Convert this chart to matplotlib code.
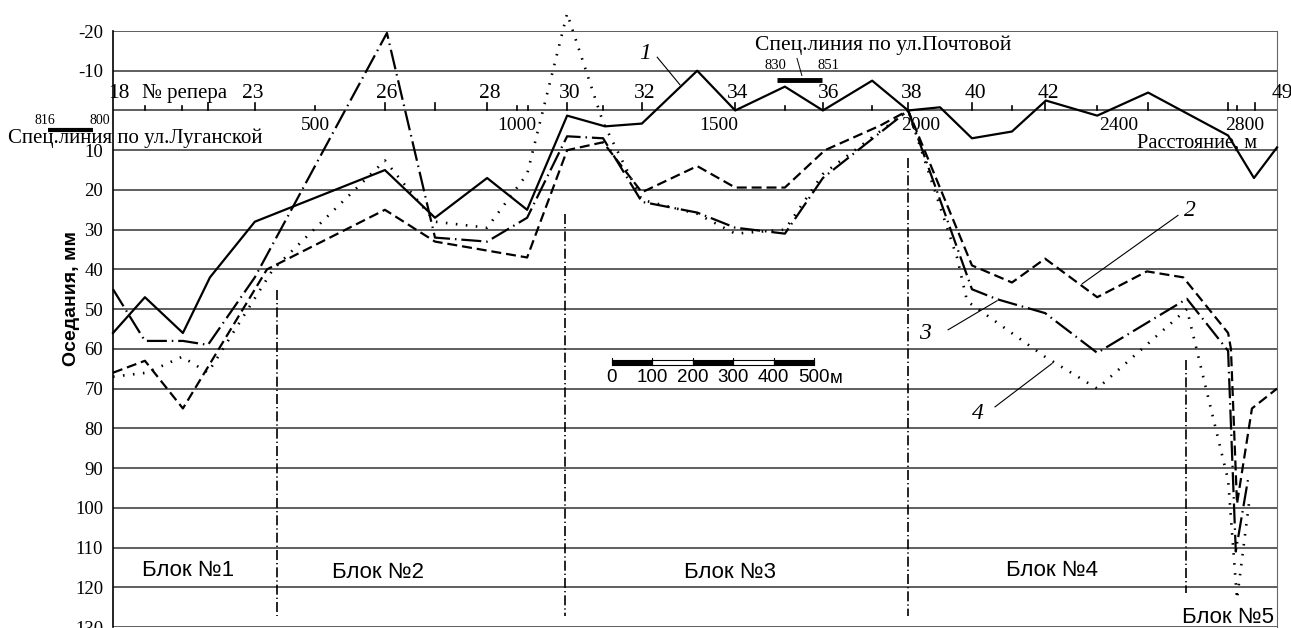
import matplotlib.pyplot as plt

# расстояние вдоль профиля (м) и оседания (мм) для кривых 1-4
x1 = [0, 79, 173, 240, 351, 673, 797, 926, 1025, 1124, 1218, 1309, 1446, 1540,
      1663, 1757, 1879, 1968, 2047, 2126, 2225, 2309, 2436, 2562, 2760, 2824, 2881]
y1 = [56, 47, 56, 42, 28, 15, 27, 17, 25, 1.3, 4, 3.3, -10, 0,
      -6, 0, -7.5, 0, -0.8, 7, 5.3, -2.5, 1.3, -4.5, 6.3, 17, 9.3]

x2 = [0, 79, 173, 381, 673, 797, 1025, 1124, 1213, 1309, 1446, 1540, 1663, 1762,
      1899, 1968, 2126, 2225, 2307, 2436, 2559, 2649, 2760, 2767, 2782, 2819, 2881]
y2 = [66, 63, 75, 40, 25, 33, 37, 10, 8, 20.6, 14, 19.4, 19.4, 10,
      3.8, 0, 39, 43.3, 37.3, 47, 40.5, 42, 56, 60, 99, 75, 70]

x3 = [0, 79, 173, 235, 351, 678, 797, 926, 1025, 1124, 1213, 1309, 1446, 1540,
      1663, 1757, 1968, 2126, 2188, 2307, 2436, 2658, 2760, 2779, 2809]
y3 = [45, 58, 58, 59, 42, -19.5, 32, 33, 27, 6.5, 7, 23, 25.7, 29.5,
      31, 17, 0, 45, 47.5, 51, 61, 47.4, 60.5, 111, 93]

x4 = [0, 84, 171, 235, 396, 673, 797, 926, 1025, 1124, 1213, 1309, 1446, 1540,
      1663, 1757, 1968, 2089, 2114, 2307, 2436, 2658, 2760, 2782, 2814]
y4 = [67, 66, 62, 66, 40, 12.6, 28, 29.5, 16, -24.4, 3, 22.5, 26, 31,
      30, 16, 0, 37, 48, 62, 70, 50, 93, 123, 97]

# реперы
rep_long = [235, 351, 673, 797, 926, 1124, 1309, 1540, 1757, 1968, 2126, 2307, 2562, 2760, 2827]
rep_short = [79, 171, 500, 1000, 1027, 1213, 1663, 1879, 2225, 2436, 2782]
rep_labels = ['18', '23', '26', '28', '30', '32', '34', '36', '38', '40', '42', '49']
rep_pos = [14, 347, 678, 933, 1131, 1317, 1547, 1770, 1978, 2134, 2314, 2894]

dist_labels = ['500', '1000', '1500', '2000', '2400', '2800']
dist_pos = [500, 1000, 1500, 2000, 2490, 2800]

y_ticks = list(range(-20, 131, 10))
y_labels = ['' if v == 0 else str(v) for v in y_ticks]

# границы блоков: x, верх, низ
block_x = [406, 1119, 1968, 2656]
block_top = [45.3, 26, 12, 62.7]
block_bot = [127.2, 127.2, 127.2, 121.4]
block_names = ['Блок №1', 'Блок №2', 'Блок №3', 'Блок №4', 'Блок №5']
block_lx = [186, 656, 1527, 2324, 2760]
block_ly = [115.9, 116.4, 116.4, 115.9, 127.7]

scale_ticks = [0, 100, 200, 300, 400, 500]

SERIF = 'Liberation Serif'
SANS = 'Liberation Sans'

fig = plt.figure(figsize=(12.91, 6.28), dpi=100)
ax = fig.add_axes([113 / 1291, 1 - 627 / 628, (1277 - 113) / 1291, (627 - 31) / 628])
ax.set_xlim(0, 2881)
ax.set_ylim(130, -20)

for v in y_ticks:
    ax.axhline(v, color='#333333', lw=1.1, zorder=1)

ax.set_xticks([])
ax.set_yticks(y_ticks)
ax.set_yticklabels(y_labels, fontsize=13.5, family=SERIF)
ax.tick_params(axis='y', length=0, pad=7)
for s in ['top', 'bottom']:
    ax.spines[s].set_visible(False)
ax.spines['left'].set_linewidth(1.2)
ax.spines['right'].set_color('#666666')

ax.plot(x1, y1, color='black', lw=1.6, zorder=4, clip_on=False)
ax.plot(x2, y2, color='black', lw=1.6, ls=(0, (4.5, 2.2)), zorder=4, clip_on=False)
ax.plot(x3, y3, color='black', lw=1.6, ls=(0, (9, 2.2, 0.7, 2.2)), zorder=4, clip_on=False)
ax.plot(x4, y4, color='black', lw=1.9, ls=(0, (0.6, 3.2)), zorder=4, clip_on=False)

# засечки реперов
for x in rep_long:
    ax.plot([x, x], [0, -2], color='black', lw=1.2)
for x in rep_short:
    ax.plot([x, x], [0, -1], color='black', lw=1.2)
for x, t in zip(rep_pos, rep_labels):
    ax.text(x, -4.3, t, ha='center', va='center', fontsize=15.5, family=SERIF, clip_on=False)
ax.text(178, -4.3, '№ репера', ha='center', va='center', fontsize=15, family=SERIF)
for x, t in zip(dist_pos, dist_labels):
    ax.text(x, 3.8, t, ha='center', va='center', fontsize=14, family=SERIF)
ax.text(2683, 8.3, 'Расстояние, м', ha='center', va='center', fontsize=14.7, family=SERIF)

# спецлинии
ax.text(-260, 7, 'Спец.линия по ул.Луганской', ha='left', va='center',
        fontsize=15, family=SERIF, clip_on=False)
ax.text(-168, 2.5, '816', ha='center', va='center', fontsize=10, family=SERIF)
ax.text(-32, 2.5, '800', ha='center', va='center', fontsize=10, family=SERIF)
ax.plot([-161, -50], [5.0, 5.0], color='black', lw=3, clip_on=False, solid_capstyle='butt')

ax.text(1589, -16.4, 'Спец.линия по ул.Почтовой', ha='left', va='center',
        fontsize=15.5, family=SERIF)
ax.text(1639, -11.3, '830', ha='center', va='center', fontsize=10.5, family=SERIF)
ax.text(1770, -11.3, '851', ha='center', va='center', fontsize=10.5, family=SERIF)
ax.plot([1644, 1755], [-7.6, -7.6], color='black', lw=3.5, solid_capstyle='butt')
ax.plot([1693, 1705], [-13.1, -8.8], color='black', lw=0.7)

# границы блоков
for x, t, b in zip(block_x, block_top, block_bot):
    ax.plot([x, x], [t, b], color='black', lw=1.2, ls=(0, (6, 1.8, 0.8, 1.8)), zorder=3)
for x, y, t in zip(block_lx, block_ly, block_names):
    ax.text(x, y, t, ha='center', va='center', fontsize=16, family=SANS)

# линейный масштаб
for i in range(5):
    a, b = 1235 + scale_ticks[i], 1235 + scale_ticks[i + 1]
    ax.fill_between([a, b], 62.9, 64.1, color='black' if i % 2 == 0 else 'white',
                    edgecolor='black', lw=0.8, zorder=5)
for v in scale_ticks:
    ax.plot([1235 + v, 1235 + v], [62.3, 64.1], color='black', lw=0.8, zorder=5)
    ax.text(1235 + v, 67.3, str(v), ha='center', va='center', fontsize=13.5, family=SANS)
ax.text(1774, 67.5, 'м', ha='left', va='center', fontsize=13.5, family=SANS)

# номера кривых
ax.text(1317, -14.4, '1', ha='center', va='center', fontsize=17, family=SERIF, style='italic')
ax.plot([1347, 1403], [-13.4, -6.5], color='black', lw=0.8)
ax.text(2666, 25.2, '2', ha='center', va='center', fontsize=17, family=SERIF, style='italic')
ax.plot([2636, 2399], [26.4, 43.6], color='black', lw=0.8)
ax.text(2010, 56.2, '3', ha='center', va='center', fontsize=17, family=SERIF, style='italic')
ax.plot([2067, 2188], [55.2, 47.9], color='black', lw=0.8)
ax.text(2141, 76.3, '4', ha='center', va='center', fontsize=17, family=SERIF, style='italic')
ax.plot([2183, 2324], [74.6, 63.7], color='black', lw=0.8)

fig.text(72 / 1291, 1 - 298 / 628, 'Оседания, мм', rotation=90, ha='center', va='center',
         fontsize=14, fontweight='bold', family=SANS)

fig.savefig('out.png', dpi=100)
